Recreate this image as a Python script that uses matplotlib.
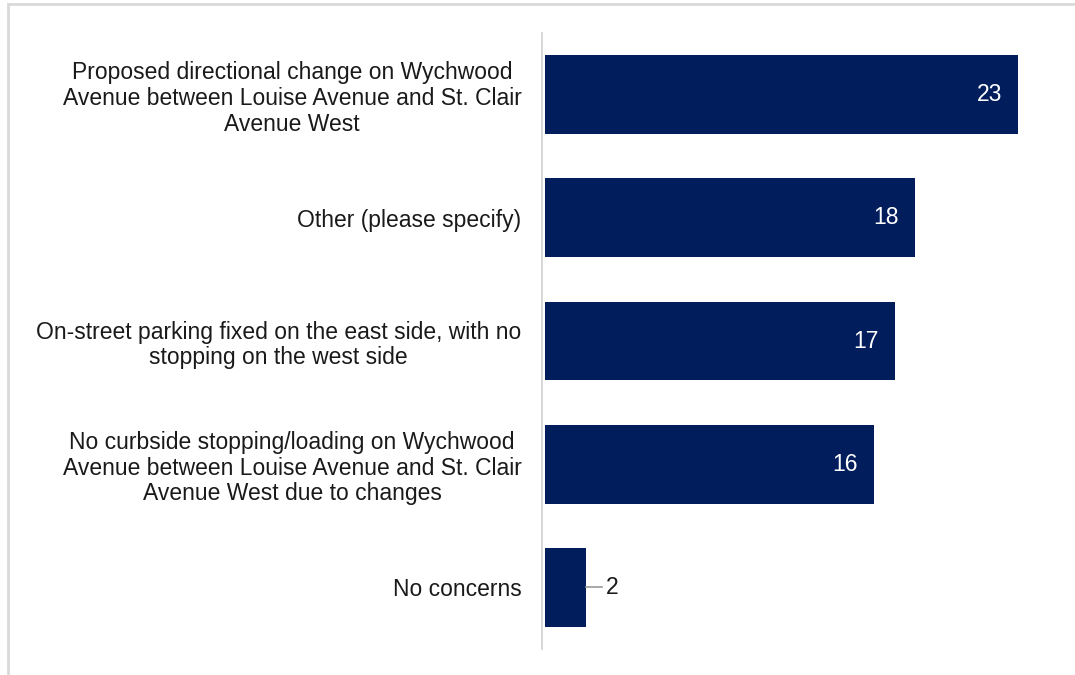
import matplotlib.pyplot as plt
from matplotlib.patches import Rectangle

categories = [
    "Proposed directional change on Wychwood\nAvenue between Louise Avenue and St. Clair\nAvenue West",
    "Other (please specify)",
    "On-street parking fixed on the east side, with no\nstopping on the west side",
    "No curbside stopping/loading on Wychwood\nAvenue between Louise Avenue and St. Clair\nAvenue West due to changes",
    "No concerns",
]
counts = [23, 18, 17, 16, 2]

bar_color = "#021d5b"
plt.rcParams["font.family"] = ["Liberation Sans", "DejaVu Sans"]

fig = plt.figure(figsize=(10.75, 6.75), dpi=100)
W, H = 1075, 675
# axes: x from 545px, y band from 33px to 649px
ax = fig.add_axes([545 / W, 1 - 649 / H, (1059 - 545) / W, (649 - 33) / H])

y = list(range(len(categories)))
ax.barh(y, counts, height=0.64, color=bar_color)
ax.set_ylim(len(categories) - 0.5, -0.5)
ax.set_xlim(0, 25)

for spine in ["top", "right", "bottom"]:
    ax.spines[spine].set_visible(False)
ax.spines["left"].set_color("#d0d0d0")
ax.spines["left"].set_linewidth(1.2)
ax.spines["left"].set_position(("outward", 2))
ax.set_xticks([])
ax.set_yticks(y)
ax.set_yticklabels(categories, fontsize=16.5, color="#1a1a1a",
                   multialignment="center", linespacing=1.15)
ax.tick_params(axis="y", length=0, pad=15)

for i, v in enumerate(counts):
    if v > 5:
        ax.text(v - 0.78, i, str(v), ha="right", va="center",
                color="white", fontsize=16.5)
    else:
        ax.plot([v, v + 0.75], [i, i], color="#999999", lw=1.2)
        ax.text(v + 0.95, i, str(v), ha="left", va="center",
                color="#1a1a1a", fontsize=16.5)

# light frame around the picture (only top and left visible)
fig.add_artist(Rectangle((8 / W, -0.05), 1.1, 1 - 4 / H + 0.05,
                         transform=fig.transFigure, fill=False,
                         edgecolor="#d9d9d9", lw=2))

fig.savefig("out.png", dpi=100)
